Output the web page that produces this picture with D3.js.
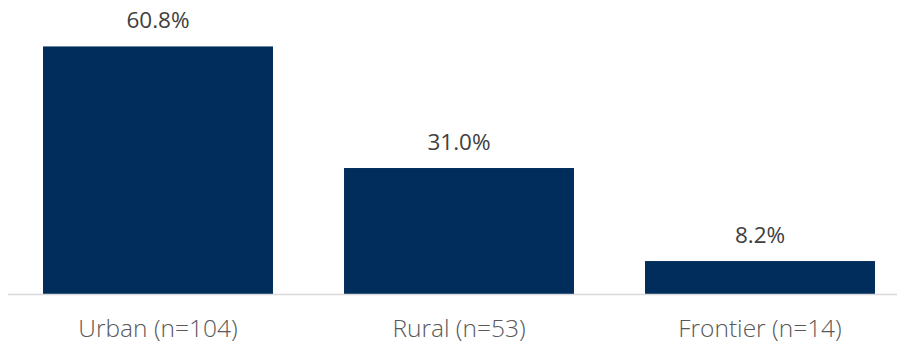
<!DOCTYPE html>
<html><head><meta charset="utf-8">
<script src="https://cdn.jsdelivr.net/npm/d3@7"></script>
<style>body{margin:0;background:#fff;}svg{display:block;}</style>
</head><body>
<svg id="c" width="897" height="347"></svg>
<script>
const categories = ["Urban (n=104)", "Rural (n=53)", "Frontier (n=14)"];
const values = [60.8, 31.0, 8.2];
const valueLabels = ["60.8%", "31.0%", "8.2%"];

const svg = d3.select("#c");
const W = 897, H = 347;
const baseY = 294.5;
const x = d3.scaleBand().domain(categories).range([7.5, 910.5]).paddingInner(0.236).paddingOuter(0.118);
const y = d3.scaleLinear().domain([0, 70]).range([baseY, baseY - 4.08 * 70]);

const font = "'Open Sans', sans-serif";

svg.selectAll("rect.bar").data(values).enter().append("rect")
  .attr("class", "bar")
  .attr("x", (d, i) => x(categories[i]))
  .attr("width", x.bandwidth())
  .attr("y", d => y(d))
  .attr("height", d => y(0) - y(d))
  .attr("fill", "#002D5C");

const axis = d3.axisBottom(x).tickSize(0).tickPadding(0);
const g = svg.append("g").attr("transform", `translate(0,${baseY})`).call(axis);
g.select(".domain").attr("d", `M8,0H${W}`).attr("stroke", "#d9d9d9").attr("stroke-width", 1.3);
g.selectAll(".tick text")
  .attr("y", 0).attr("dy", 0)
  .attr("transform", "translate(0,42)")
  .style("font-family", font).style("font-size", "24.5px").style("font-weight", 300)
  .attr("fill", "#595959");

svg.selectAll("text.val").data(values).enter().append("text")
  .attr("class", "val")
  .attr("x", (d, i) => x(categories[i]) + x.bandwidth() / 2)
  .attr("y", d => y(d) - 18)
  .attr("text-anchor", "middle")
  .style("font-family", font).style("font-size", "22.5px")
  .attr("fill", "#404040")
  .text((d, i) => valueLabels[i]);
</script>
</body></html>
